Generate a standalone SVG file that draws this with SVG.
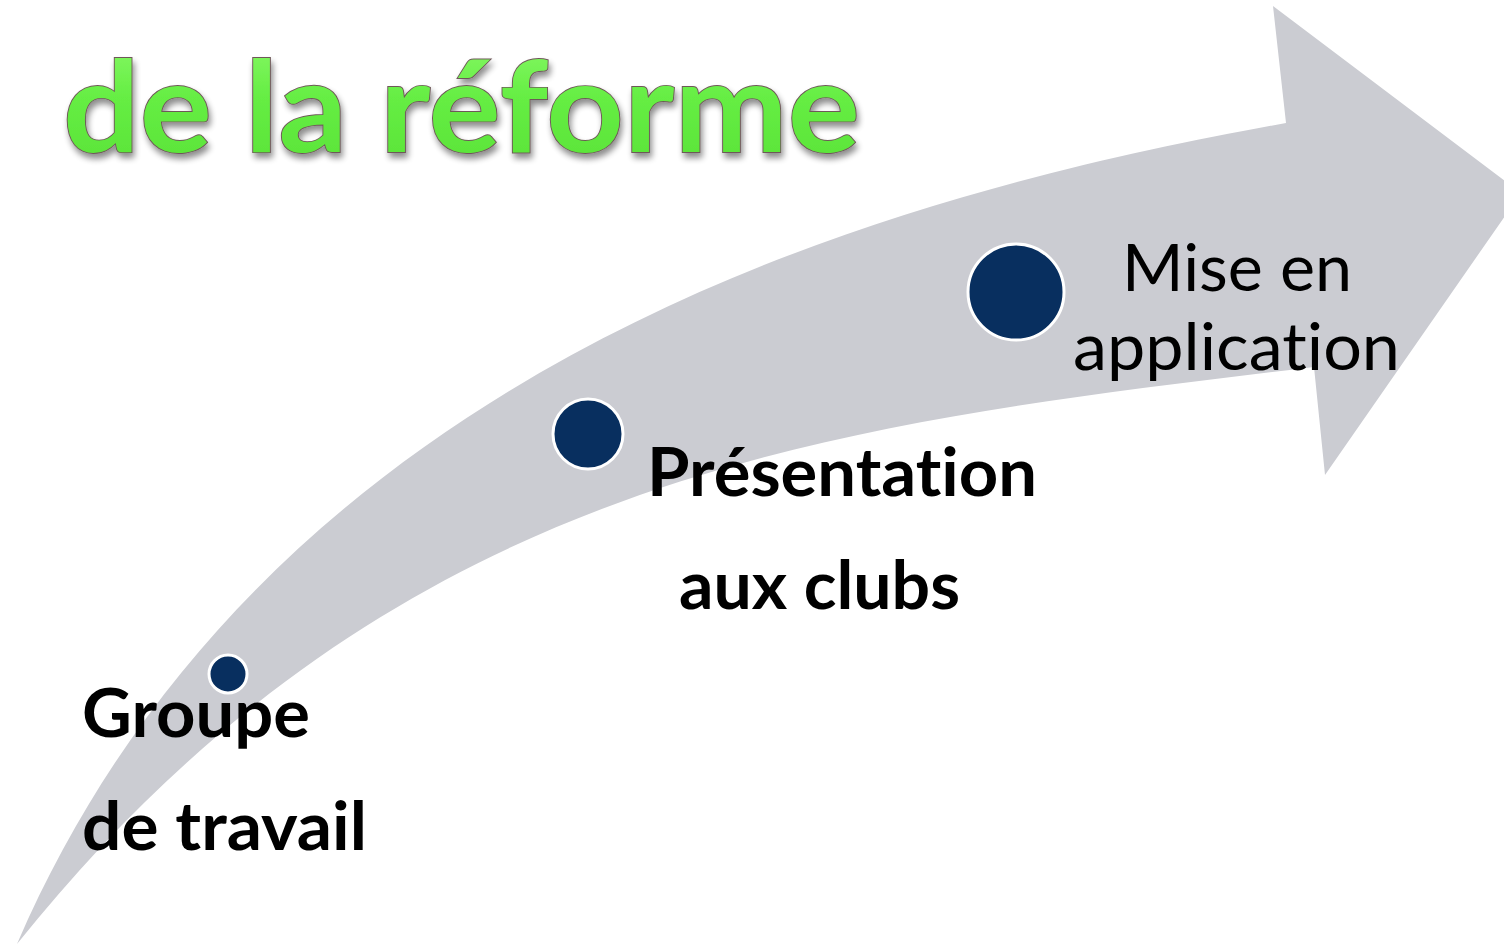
<svg xmlns="http://www.w3.org/2000/svg" width="1504" height="944" viewBox="0 0 1504 944">
  <defs>
    <linearGradient id="titleGrad" x1="0" y1="0" x2="0" y2="1">
      <stop offset="0" stop-color="#8CFA6C"/>
      <stop offset="0.45" stop-color="#66EE44"/>
      <stop offset="1" stop-color="#58E236"/>
    </linearGradient>
    <filter id="shadow" x="-5%" y="-20%" width="110%" height="150%">
      <feGaussianBlur in="SourceAlpha" stdDeviation="3"/>
      <feOffset dx="2" dy="5" result="b"/>
      <feComponentTransfer><feFuncA type="linear" slope="0.45"/></feComponentTransfer>
      <feMerge><feMergeNode/><feMergeNode in="SourceGraphic"/></feMerge>
    </filter>
    <style>
      text { font-variant-ligatures: none; font-feature-settings: "liga" 0, "clig" 0; }
      .dot { fill: #082F5F; stroke: #FFFFFF; stroke-width: 3; }
      .lbl { font-family: Lato, "Open Sans", "Liberation Sans", sans-serif; fill: #000000; }
      .reg { font-weight: 400; font-size: 66px; }
      .bold { font-weight: 700; font-size: 67px; }
      .title { font-family: Lato, "Open Sans", "Liberation Sans", sans-serif; font-weight: 700; font-size: 126px; fill: url(#titleGrad); stroke: #6E5858; stroke-width: 1.8; paint-order: stroke; }
    </style>
  </defs>
  <rect width="1504" height="944" fill="#FFFFFF"/>

  <g id="title" filter="url(#shadow)">
    <text class="title" x="63" y="152" textLength="797" lengthAdjust="spacingAndGlyphs">de la réforme</text>
  </g>

  <g id="connectors">
    <path id="arrow" d="M17,944 C275,346 921,189 1286,123 L1273,6 L1521,193 L1325,475 L1314,367 C834,425 398,469 17,944 Z" fill="#CBCCD2"/>
  </g>

  <g id="node-groupe">
    <circle class="dot" cx="228" cy="674" r="19"/>
    <text class="lbl bold" x="82" y="737" textLength="228" lengthAdjust="spacingAndGlyphs">Groupe</text>
    <text class="lbl bold" x="82" y="850" textLength="285" lengthAdjust="spacingAndGlyphs">de travail</text>
  </g>

  <g id="node-presentation">
    <circle class="dot" cx="588" cy="434" r="35"/>
    <text class="lbl bold" x="647" y="496" textLength="390" lengthAdjust="spacingAndGlyphs">Présentation</text>
    <text class="lbl bold" x="679" y="609" textLength="281" lengthAdjust="spacingAndGlyphs">aux clubs</text>
  </g>

  <g id="node-mise">
    <circle class="dot" cx="1016" cy="292" r="48"/>
    <text class="lbl reg" x="1122" y="291" textLength="230" lengthAdjust="spacingAndGlyphs">Mise en</text>
    <text class="lbl reg" x="1073" y="370" textLength="327" lengthAdjust="spacingAndGlyphs">application</text>
  </g>
</svg>
